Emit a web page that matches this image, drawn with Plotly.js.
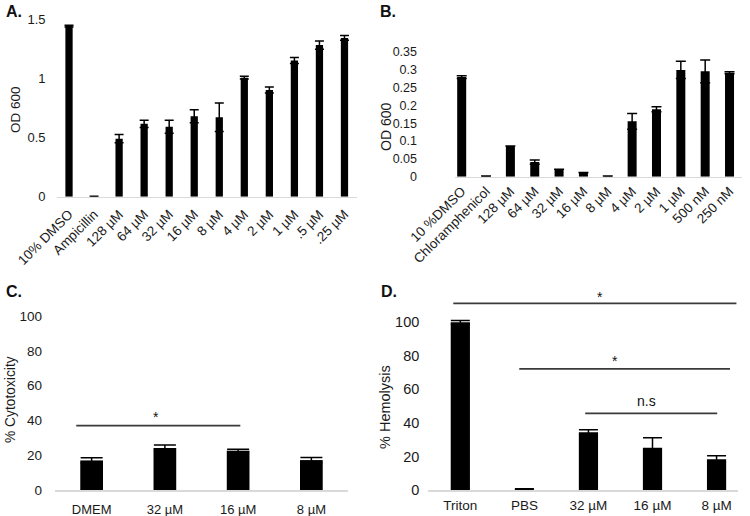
<!DOCTYPE html>
<html>
<head>
<meta charset="utf-8">
<script src="https://cdn.plot.ly/plotly-3.0.1.min.js"></script>
<style>html,body{margin:0;padding:0;background:#fff;}#chart{width:750px;height:516px;}</style>
</head>
<body>
<div id="chart"></div>
<script>
// ---- Panel A data ----
const catsA = ["10% DMSO","Ampicillin","128 µM","64 µM","32 µM","16 µM","8 µM","4 µM","2 µM","1 µM",".5 µM",".25 µM"];
const valsA = [1.44, 0.004, 0.49, 0.615, 0.59, 0.68, 0.67, 1.005, 0.90, 1.15, 1.28, 1.34];
const errA  = [0.008, 0.0, 0.035, 0.03, 0.055, 0.055, 0.12, 0.012, 0.025, 0.025, 0.035, 0.02];
const ticksA = [0, 0.5, 1, 1.5];
const tickTextA = ["0", "0.5", "1", "1.5"];

// ---- Panel B data ----
const catsB = ["10 %DMSO","Chloramphenicol","128 µM","64 µM","32 µM","16 µM","8 µM","4 µM","2 µM","1 µM","500 nM","250 nM"];
const valsB = [0.279, 0.002, 0.086, 0.041, 0.021, 0.012, 0.002, 0.155, 0.189, 0.299, 0.295, 0.291];
const errB  = [0.004, 0.0, 0.0, 0.006, 0.0, 0.0, 0.0, 0.022, 0.007, 0.024, 0.032, 0.003];
const ticksB = [0, 0.05, 0.1, 0.15, 0.2, 0.25, 0.3, 0.35];
const tickTextB = ["0", "0.05", "0.1", "0.15", "0.2", "0.25", "0.3", "0.35"];

// ---- Panel C data ----
const catsC = ["DMEM","32 µM","16 µM","8 µM"];
const valsC = [17, 24.2, 22.6, 17.2];
const errC  = [1.5, 1.6, 0.8, 1.5];
const ticksC = [0, 20, 40, 60, 80, 100];
const sigC = [{x0: -0.21, x1: 2.03, y: 37, label: "*", lx: 0.88, ly: 42}];

// ---- Panel D data ----
const catsD = ["Triton","PBS","32 µM","16 µM","8 µM"];
const valsD = [100, 0.3, 34.4, 25.2, 18.4];
const errD  = [1.1, 0.5, 1.5, 6.0, 2.1];
const ticksD = [0, 20, 40, 60, 80, 100];
const sigD = [
  {x0: -0.11, x1: 4.31, y: 111.3, label: "*", lx: 2.18, ly: 115},
  {x0: 0.92, x1: 4.21, y: 72.3, label: "*", lx: 2.42, ly: 77},
  {x0: 1.95, x1: 4.01, y: 45.7, label: "n.s", lx: 2.9, ly: 53}
];

const FONT = "Liberation Sans, Arial, sans-serif";
const TXT = "#1a1a1a";
const AXC = "#d9d9d9";

function bar(cats, vals, errs, xa, ya, capw, w) {
  return {
    type: "bar", x: cats, y: vals, xaxis: xa, yaxis: ya, width: w,
    marker: {color: "#000"},
    error_y: {type: "data", array: errs, visible: true, color: "#000", thickness: 1.5, width: capw},
    showlegend: false, hoverinfo: "x+y"
  };
}

const data = [
  bar(catsA, valsA, errA, "x", "y", 4.5, 0.29),
  bar(catsB, valsB, errB, "x2", "y2", 5, 0.37),
  bar(catsC, valsC, errC, "x3", "y3", 11, 0.31),
  bar(catsD, valsD, errD, "x4", "y4", 9.5, 0.30)
];

function xax(domain, range, anchor, fs, angle, standoff) {
  return {
    domain: domain, range: range, anchor: anchor, type: "category",
    showline: true, linecolor: AXC, linewidth: 1.5, showgrid: false, zeroline: false,
    ticks: "", tickangle: angle, ticklabelstandoff: standoff,
    tickfont: {family: FONT, size: fs, color: TXT}, fixedrange: true
  };
}
function yax(domain, range, anchor, tv, tt, fs, standoff) {
  return {
    domain: domain, range: range, anchor: anchor,
    showline: false, showgrid: false, zeroline: false, ticks: "",
    tickvals: tv, ticktext: tt, ticklabelstandoff: standoff,
    tickfont: {family: FONT, size: fs, color: TXT}, fixedrange: true
  };
}

const W = 750, H = 516;
const px = v => v / W;
const py = v => 1 - v / H;

const layout = {
  width: W, height: H,
  margin: {l: 0, r: 0, t: 0, b: 0},
  paper_bgcolor: "#fff", plot_bgcolor: "rgba(0,0,0,0)",
  font: {family: FONT, color: TXT},
  xaxis:  xax([px(56.5), px(357)], [-0.5, 11.5], "y", 13.5, -45, 3),
  yaxis:  yax([py(196.7), py(19)], [0, 1.5], "x", ticksA, tickTextA, 13, 10),
  xaxis2: xax([px(455), px(741.7)], [-0.275, 11.5], "y2", 13.5, -45, 3.5),
  yaxis2: yax([py(176.7), py(51.7)], [0, 0.35], "x2", ticksB, tickTextB, 12.5, 37),
  xaxis3: xax([px(55), px(348)], [-0.5, 3.5], "y3", 13, 0, 7),
  yaxis3: yax([py(490), py(316)], [0, 100], "x3", ticksC, ticksC.map(String), 13.5, 12),
  xaxis4: xax([px(428.3), px(737.7)], [-0.5, 4.33], "y4", 13.5, 0, 2),
  yaxis4: yax([py(490), py(288.8)], [0, 120], "x4", ticksD, ticksD.map(String), 14.5, 8),
  shapes: [],
  annotations: []
};

function addSig(list, xa, ya, fs) {
  list.forEach(s => {
    layout.shapes.push({type: "line", xref: xa, yref: ya, x0: s.x0, x1: s.x1, y0: s.y, y1: s.y,
      line: {color: "#3a3a3a", width: 1.8}});
    layout.annotations.push({xref: xa, yref: ya, x: s.lx, y: s.ly, text: s.label, showarrow: false,
      font: {family: FONT, size: fs, color: "#111"}});
  });
}
addSig(sigC, "x3", "y3", 14);
addSig(sigD, "x4", "y4", 14);

// panel letters
[["A.", 4, 11], ["B.", 378, 11], ["C.", 4, 291], ["D.", 379, 291]].forEach(p => {
  layout.annotations.push({xref: "paper", yref: "paper", x: px(p[1]), y: py(p[2]), xanchor: "left", yanchor: "middle",
    text: "<b>" + p[0] + "</b>", showarrow: false, font: {family: FONT, size: 16, color: "#111"}});
});
// y-axis titles
[["OD 600", 16, 110, 13.5], ["OD 600", 386, 127, 14], ["% Cytotoxicity", 10, 400, 13.8], ["% Hemolysis", 385, 407, 14.5]].forEach(t => {
  layout.annotations.push({xref: "paper", yref: "paper", x: px(t[1]), y: py(t[2]), xanchor: "center", yanchor: "middle",
    text: t[0], textangle: -90, showarrow: false, font: {family: FONT, size: t[3], color: TXT}});
});

Plotly.newPlot("chart", data, layout, {staticPlot: true, displayModeBar: false});
</script>
</body>
</html>
